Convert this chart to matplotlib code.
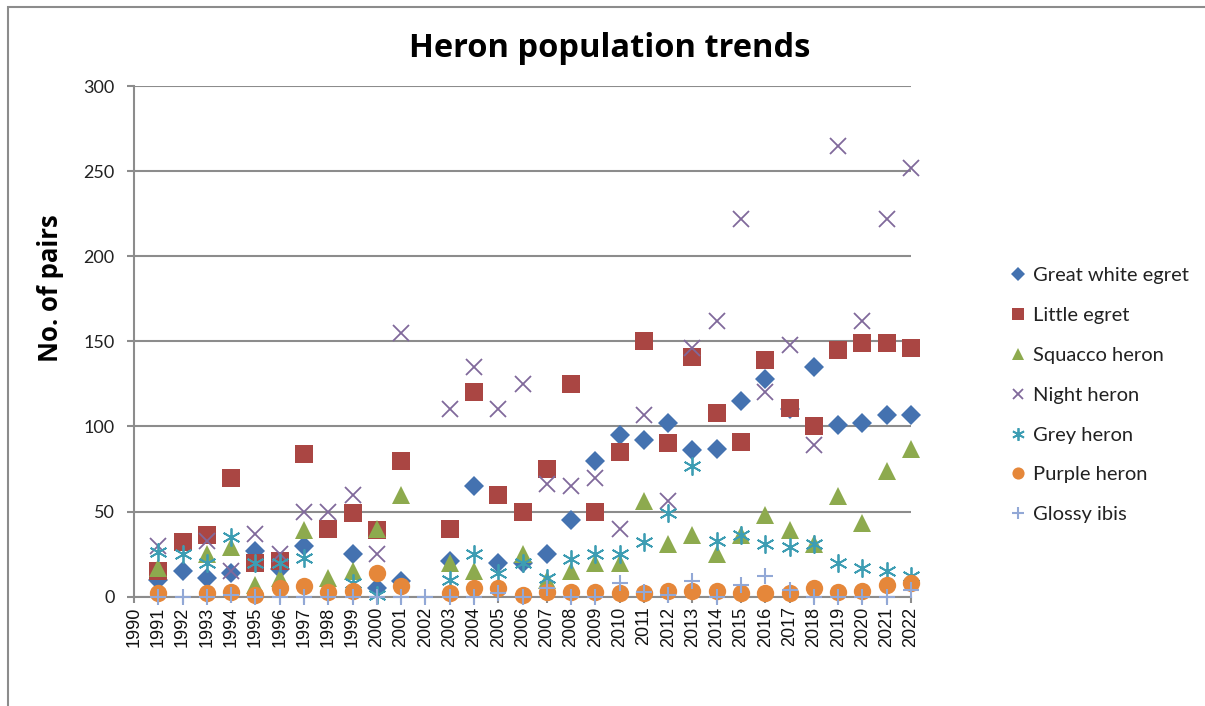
import numpy as np
import matplotlib
matplotlib.use('Agg')
import matplotlib.pyplot as plt
from matplotlib.patches import Rectangle

nan = np.nan

# data
years = list(range(1991, 2023))

great_white_egret = [10, 15, 11, 14, 27, 16, 30, nan, 25, 5, 9, nan, 21, 65, 20, 20,
                     25, 45, 80, 95, 92, 102, 86, 87, 115, 128, 110, 135, 101, 102, 107, 107]
little_egret = [15, 32, 36, 70, 20, 21, 84, 40, 49, 39, 80, nan, 40, 120, 60, 50,
                75, 125, 50, 85, 150, 90, 141, 108, 91, 139, 111, 100, 145, 149, 149, 146]
squacco_heron = [17, nan, 25, 29, 7, 11, 39, 11, 15, 40, 60, nan, 20, 15, nan, 25,
                 10, 15, 20, 20, 56, 31, 36, 25, 36, 48, 39, 31, 59, 43, 74, 87]
night_heron = [30, nan, 33, 15, 37, 25, 50, 50, 60, 25, 155, nan, 110, 135, 110, 125,
               66, 65, 70, 40, 107, 56, 146, 162, 222, 120, 148, 89, 265, 162, 222, 252]
grey_heron = [26, 25, 20, 35, 20, 20, 23, nan, 8, 1, nan, nan, 10, 25, 14, 20,
              11, 22, 25, 25, 32, 49, 77, 33, 36, 31, 29, 31, 20, 17, 15, 12]
purple_heron = [2, nan, 2, 3, 1, 5, 6, 3, 3.5, 14, 6, nan, 2, 5, 5, 1,
                2.5, 3, 3, 2, 2, 3.5, 3.5, 3.5, 2, 2, 2, 5, 3, 3.5, 7, 8]
glossy_ibis = [0, 0, 0, 1, 0, 0, 0, 0, 0, 0, 0, 0, 0, 0, 2, 0,
               5, 0, 0, 8, 3, 1, 9, 0, 7, 12, 4, 0, 0, 0, 0, 4]

series_names = ['Great white egret', 'Little egret', 'Squacco heron', 'Night heron',
                'Grey heron', 'Purple heron', 'Glossy ibis']
x_ticks = list(range(1990, 2023))
y_ticks = [0, 50, 100, 150, 200, 250, 300]

# marker styles (Excel-like)
styles = [
    dict(marker='D', ms=10, color='#4472B0', mew=0),
    dict(marker='s', ms=13, color='#AA4643', mew=0),
    dict(marker='^', ms=12.5, color='#8DAA4E', mew=0),
    dict(marker='x', ms=11, color='#80699B', mew=1.3),
    dict(marker=(6, 2, 0), ms=13, color='#3D9DB3', mew=1.3),
    dict(marker='o', ms=12.5, color='#E5873A', mew=0),
    dict(marker='+', ms=12, color='#92A8D6', mew=1.5),
]

all_series = [great_white_egret, little_egret, squacco_heron, night_heron,
              grey_heron, purple_heron, glossy_ibis]

fig = plt.figure(figsize=(12.05, 7.06), dpi=100)
fig.patch.set_facecolor('white')
ax = fig.add_axes([134 / 1205, 1 - 596.7 / 706, 777 / 1205, 510.7 / 706])

grid_col = '#8C8C8C'
handles = []
for name, vals, st in zip(series_names, all_series, styles):
    h, = ax.plot(years, vals, linestyle='none', marker=st['marker'], markersize=st['ms'],
                 color=st['color'], markeredgewidth=st['mew'], clip_on=False,
                 label=name, zorder=3)
    handles.append(h)

ax.set_xlim(1990, 2022)
ax.set_ylim(0, 300)
ax.set_yticks(y_ticks)
ax.set_xticks(x_ticks)
ax.set_xticklabels([str(y) for y in x_ticks], rotation=90,
                   fontsize=13, family='Liberation Sans')
ax.set_yticklabels([str(v) for v in y_ticks], fontsize=13, family='Lato')
ax.yaxis.grid(True, color=grid_col, linewidth=1.5)
ax.set_axisbelow(True)
for s in ['top', 'right']:
    ax.spines[s].set_visible(False)
for s in ['left', 'bottom']:
    ax.spines[s].set_color(grid_col)
    ax.spines[s].set_linewidth(1.5)
ax.tick_params(axis='y', length=5, width=1.5, color=grid_col, pad=9, labelcolor='#222222')
ax.tick_params(axis='x', length=4, width=1.5, color=grid_col, pad=3, labelcolor='#111111')

fig.text(0.506, 0.932, 'Heron population trends', ha='center', va='center',
         fontsize=23.5, fontweight='bold', family='Open Sans')
fig.text(0.042, 0.592, 'No. of pairs', ha='center', va='center', rotation=90,
         fontsize=18.5, fontweight='bold', family='Open Sans')

leg = fig.legend(handles=handles, loc='upper left', bbox_to_anchor=(1002 / 1205, 1 - 259 / 706),
                 frameon=False, numpoints=1, markerscale=0.7, handlelength=0.8,
                 handletextpad=0.35, labelspacing=1.13, borderaxespad=0,
                 prop={'family': 'Lato', 'size': 14.5})
for t in leg.get_texts():
    t.set_color('#222222')

# outer chart border (only left and top visible in the crop)
fig.patches.append(Rectangle((8 / 1205, -0.2), 1.5, 1.2 - 7 / 706, transform=fig.transFigure,
                             fill=False, edgecolor=grid_col, linewidth=1.5))

fig.savefig('out.png', dpi=100, facecolor='white')
